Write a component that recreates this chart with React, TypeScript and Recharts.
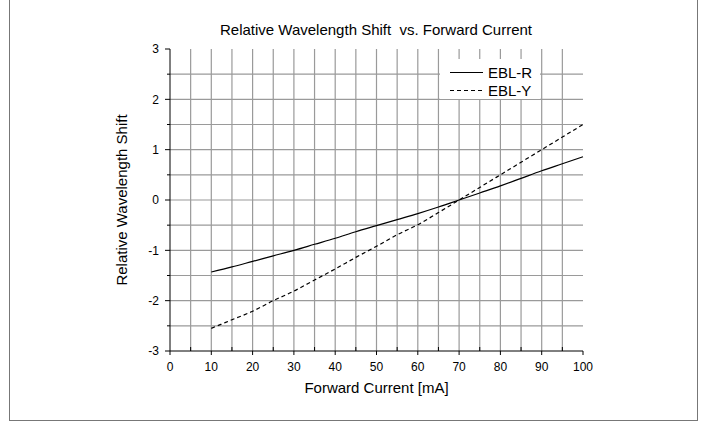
import React from "react";
import {
  LineChart,
  Line,
  XAxis,
  YAxis,
  CartesianGrid,
  Legend,
  Label,
} from "recharts";

// forward current [mA]
const currents = [10, 15, 20, 25, 30, 35, 40, 45, 50, 55, 60, 65, 70, 75, 80, 85, 90, 95, 100];
const eblR = [-1.43, -1.33, -1.22, -1.11, -1.0, -0.88, -0.76, -0.63, -0.51, -0.39, -0.27, -0.14, 0, 0.14, 0.28, 0.43, 0.58, 0.72, 0.86];
const eblY = [-2.55, -2.38, -2.21, -2.0, -1.81, -1.59, -1.37, -1.14, -0.92, -0.69, -0.49, -0.25, 0, 0.25, 0.5, 0.75, 1.0, 1.25, 1.5];

const xTicks = [0, 5, 10, 15, 20, 25, 30, 35, 40, 45, 50, 55, 60, 65, 70, 75, 80, 85, 90, 95, 100];
const yTicks = [-3, -2.5, -2, -1.5, -1, -0.5, 0, 0.5, 1, 1.5, 2, 2.5, 3];
const xGrid = [5, 10, 15, 20, 25, 30, 35, 40, 45, 50, 55, 60, 65, 70, 75, 80, 85, 90, 95];
const yGrid = [-2.5, -2, -1.5, -1, -0.5, 0, 0.5, 1, 1.5, 2, 2.5];

const series = [
  { key: "EBL-R", dash: undefined as string | undefined },
  { key: "EBL-Y", dash: "4 3" },
];

const data = currents.map((c, i) => ({
  current: c,
  "EBL-R": eblR[i],
  "EBL-Y": eblY[i],
}));

const FONT = "'Liberation Sans', Arial, sans-serif";

function XTick(props: any) {
  const { x, y, payload } = props;
  const v = payload.value;
  const axisY = y - 11;
  if (v % 10 !== 0) {
    // minor tick points into the plot
    return <line x1={x} x2={x} y1={axisY} y2={axisY - 4} stroke="#000" />;
  }
  return (
    <g>
      <line x1={x} x2={x} y1={axisY} y2={axisY + 4} stroke="#000" />
      <text x={x} y={y} dy="0.71em" textAnchor="middle" fontSize={12} fill="#000">
        {v}
      </text>
    </g>
  );
}

function YTick(props: any) {
  const { x, y, payload } = props;
  const v = payload.value;
  const axisX = x + 11;
  const major = Number.isInteger(v);
  return (
    <g>
      <line x1={axisX - (major ? 5 : 3)} x2={axisX} y1={y} y2={y} stroke="#000" />
      {major && (
        <text x={x} y={y} dy="0.355em" textAnchor="end" fontSize={12} fill="#000">
          {v}
        </text>
      )}
    </g>
  );
}

function LegendBox() {
  return (
    <div
      style={{
        background: "#fff",
        width: 100,
        height: 40,
        boxSizing: "border-box",
        paddingTop: 4,
        fontFamily: FONT,
        fontSize: 15,
        color: "#000",
      }}
    >
      {series.map((s) => (
        <div key={s.key} style={{ display: "flex", alignItems: "center", height: 18 }}>
          <svg width={48} height={18} style={{ display: "block" }}>
            <line x1={10} x2={43} y1={9.5} y2={9.5} stroke="#000" strokeDasharray={s.dash} />
          </svg>
          <span>{s.key}</span>
        </div>
      ))}
    </div>
  );
}

export default function App() {
  return (
    <div
      style={{
        position: "absolute",
        left: 0,
        top: 0,
        width: 705,
        height: 423,
        background: "#fff",
        fontFamily: FONT,
      }}
    >
      <div
        style={{
          position: "absolute",
          left: 9,
          top: -1,
          width: 689,
          height: 422,
          boxSizing: "border-box",
          border: "1.5px solid #777",
          pointerEvents: "none",
        }}
      />
      <div
        style={{
          position: "absolute",
          left: 0,
          top: 22,
          width: 752,
          textAlign: "center",
          fontSize: 15,
          lineHeight: "15px",
          color: "#000",
          whiteSpace: "pre",
        }}
      >
        {"Relative Wavelength Shift  vs. Forward Current"}
      </div>
      <LineChart
        width={705}
        height={423}
        data={data}
        margin={{ top: 49, right: 122, bottom: 42, left: 120 }}
      >
        <CartesianGrid
          stroke="#9a9a9a"
          strokeWidth={1.2}
          verticalValues={xGrid}
          horizontalValues={yGrid}
        />
        <XAxis
          dataKey="current"
          type="number"
          domain={[0, 100]}
          ticks={xTicks}
          interval={0}
          height={30}
          tickSize={4}
          tickMargin={7}
          tickLine={false}
          axisLine={{ stroke: "#000" }}
          tick={<XTick />}
        >
          <Label
            value="Forward Current [mA]"
            position="bottom"
            offset={1}
            style={{ fontSize: 15, fill: "#000" }}
          />
        </XAxis>
        <YAxis
          type="number"
          domain={[-3, 3]}
          ticks={yTicks}
          interval={0}
          width={50}
          tickSize={5}
          tickMargin={6}
          tickLine={false}
          axisLine={{ stroke: "#000" }}
          tick={<YTick />}
        >
          <Label
            value="Relative Wavelength Shift"
            angle={-90}
            position="insideLeft"
            offset={2}
            style={{ fontSize: 15, fill: "#000", textAnchor: "middle" }}
          />
        </YAxis>
        <Legend
          layout="vertical"
          align="center"
          verticalAlign="middle"
          wrapperStyle={{ left: 440, top: 59, width: 100 }}
          content={() => <LegendBox />}
        />
        {series.map((s) => (
          <Line
            key={s.key}
            type="monotone"
            dataKey={s.key}
            stroke="#000"
            strokeWidth={1.2}
            strokeDasharray={s.dash}
            dot={false}
            activeDot={false}
            isAnimationActive={false}
          />
        ))}
      </LineChart>
    </div>
  );
}
